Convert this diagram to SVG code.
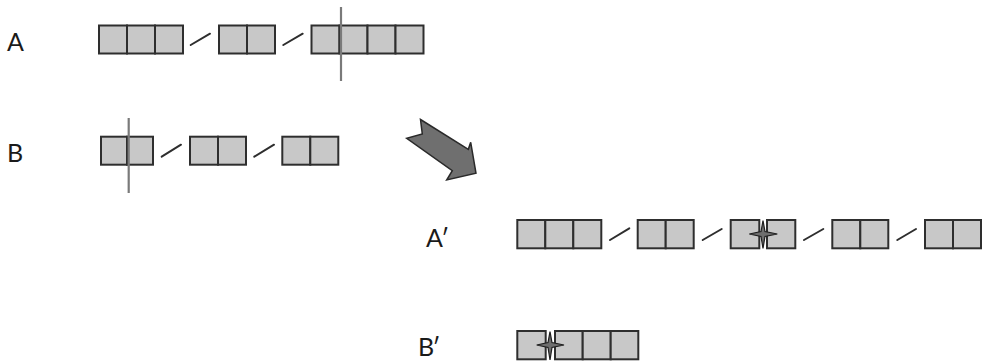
<svg xmlns="http://www.w3.org/2000/svg" width="982" height="362" viewBox="0 0 982 362">
<style>
.cell{fill:#c8c8c8;stroke:#2e2e2e;stroke-width:2}
.lbl{font-family:Lato,"Open Sans","Liberation Sans",sans-serif;font-size:25px;fill:#1a1a1a}
.pr{letter-spacing:-2px}
.slash{stroke:#2e2e2e;stroke-width:2;stroke-linecap:round}
.cut{stroke:#7a7a7a;stroke-width:2.2}
.star{fill:#6e6e6e;stroke:#1e1e1e;stroke-width:1.2;stroke-linejoin:miter}
</style>
<rect width="982" height="362" fill="#ffffff"/>

<g id="label-A"><text class="lbl" x="7" y="50.5">A</text></g>
<g id="label-B"><text class="lbl" x="7" y="161.5">B</text></g>
<g id="label-A-prime"><text class="lbl pr" x="426" y="246.5">A′</text></g>
<g id="label-B-prime"><text class="lbl pr" x="418" y="356">B′</text></g>

<g id="A-seg1">
<rect class="cell" x="99" y="25.5" width="28" height="28"/>
<rect class="cell" x="127" y="25.5" width="28" height="28"/>
<rect class="cell" x="155" y="25.5" width="28" height="28"/>
</g>
<g id="A-seg2">
<rect class="cell" x="219" y="25.5" width="28" height="28"/>
<rect class="cell" x="247" y="25.5" width="28" height="28"/>
</g>
<g id="A-seg3">
<rect class="cell" x="311.5" y="25.5" width="28" height="28"/>
<rect class="cell" x="339.5" y="25.5" width="28" height="28"/>
<rect class="cell" x="367.5" y="25.5" width="28" height="28"/>
<rect class="cell" x="395.5" y="25.5" width="28" height="28"/>
<line class="cut" x1="341" y1="7" x2="341" y2="81"/>
</g>

<g id="B-seg1">
<rect class="cell" x="101" y="136.7" width="26" height="28"/>
<rect class="cell" x="127" y="136.7" width="26" height="28"/>
<line class="cut" x1="128.7" y1="118" x2="128.7" y2="193"/>
</g>
<g id="B-seg2">
<rect class="cell" x="190" y="136.7" width="28" height="28"/>
<rect class="cell" x="218" y="136.7" width="28" height="28"/>
</g>
<g id="B-seg3">
<rect class="cell" x="282.3" y="136.7" width="28" height="28"/>
<rect class="cell" x="310.3" y="136.7" width="28" height="28"/>
</g>

<g id="transform-arrow">
<polygon points="420.5,119.5 468.3,149.3 470.7,142.3 476,173.3 446.7,180 452.3,170.7 406.7,138.3 422.3,134" fill="#6f6f6f" stroke="#2a2a2a" stroke-width="1.5" stroke-linejoin="miter"/>
</g>

<g id="Ap-seg1">
<rect class="cell" x="517.3" y="220" width="28" height="28.3"/>
<rect class="cell" x="545.3" y="220" width="28" height="28.3"/>
<rect class="cell" x="573.3" y="220" width="28" height="28.3"/>
</g>
<g id="Ap-seg2">
<rect class="cell" x="637.7" y="220" width="28" height="28.3"/>
<rect class="cell" x="665.7" y="220" width="28" height="28.3"/>
</g>
<g id="Ap-seg3">
<rect class="cell" x="730.7" y="220" width="28.6" height="28.3"/>
<rect class="cell" x="767" y="220" width="28.3" height="28.3"/>
<path class="star" d="M763,220.7 L765,231.5 L777.3,234 L765,236.5 L763,248.3 L761,236.5 L749.3,234 L761,231.5 Z"/>
</g>
<g id="Ap-seg4">
<rect class="cell" x="832.3" y="220" width="28" height="28.3"/>
<rect class="cell" x="860.3" y="220" width="28" height="28.3"/>
</g>
<g id="Ap-seg5">
<rect class="cell" x="925" y="220" width="28" height="28.3"/>
<rect class="cell" x="953" y="220" width="28" height="28.3"/>
</g>

<g id="Bp-seg1">
<rect class="cell" x="517.3" y="331" width="28.4" height="28.3"/>
<rect class="cell" x="555" y="331" width="27.7" height="28.3"/>
<rect class="cell" x="582.7" y="331" width="28" height="28.3"/>
<rect class="cell" x="610.7" y="331" width="27.6" height="28.3"/>
<path class="star" d="M550,331.7 L552,342.5 L564,345 L552,347.5 L550,360 L548,347.5 L536.7,345 L548,342.5 Z"/>
</g>

<g id="connectors">
<line class="slash" x1="190.7" y1="45" x2="210" y2="33.7"/>
<line class="slash" x1="283.3" y1="45" x2="302.7" y2="33.7"/>
<line class="slash" x1="161.7" y1="156.7" x2="181" y2="144.7"/>
<line class="slash" x1="254.3" y1="156.7" x2="274" y2="144.7"/>
<line class="slash" x1="610" y1="240" x2="629.3" y2="228.3"/>
<line class="slash" x1="702.7" y1="240" x2="721.7" y2="229"/>
<line class="slash" x1="804" y1="240" x2="823.3" y2="229"/>
<line class="slash" x1="897.3" y1="240" x2="916" y2="229"/>
</g>
</svg>
